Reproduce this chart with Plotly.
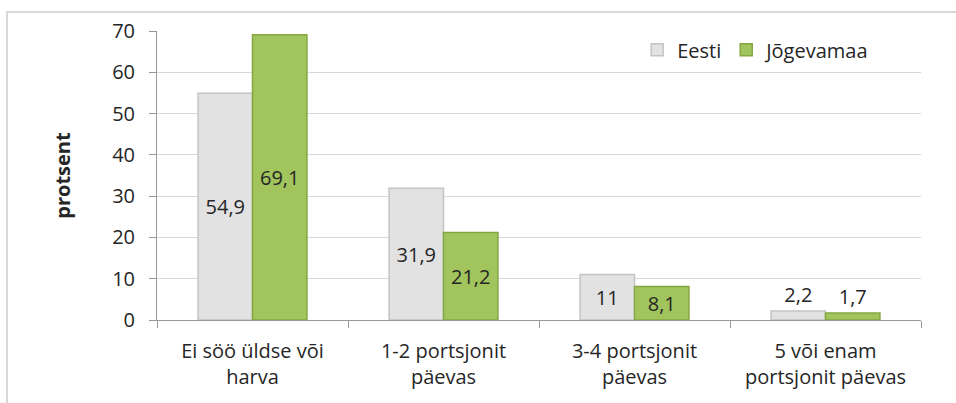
import plotly.graph_objects as go

categories = ["Ei söö üldse või<br>harva", "1-2 portsjonit<br>päevas", "3-4 portsjonit<br>päevas", "5 või enam<br>portsjonit päevas"]
eesti = [54.9, 31.9, 11, 2.2]
jogevamaa = [69.1, 21.2, 8.1, 1.7]
series_names = ["Eesti", "Jõgevamaa"]
y_ticks = [0, 10, 20, 30, 40, 50, 60, 70]

FONT = "Open Sans"
TXT = "#262626"
FS = 20

def fmt(v):
    return ("%g" % v).replace(".", ",")

def positions(vals):
    return ["outside" if v < 5 else "inside" for v in vals]

fig = go.Figure()
fig.add_trace(go.Bar(
    x=categories, y=eesti, name=series_names[0],
    marker=dict(color="#e2e2e2", line=dict(color="#c4c4c4", width=1.5)),
    text=[fmt(v) for v in eesti], textposition=positions(eesti),
    insidetextanchor="middle", cliponaxis=False,
    textfont=dict(family=FONT, size=FS, color=TXT),
))
fig.add_trace(go.Bar(
    x=categories, y=jogevamaa, name=series_names[1],
    marker=dict(color="#a1c45d", line=dict(color="#85a742", width=1.5)),
    text=[fmt(v) for v in jogevamaa], textposition=positions(jogevamaa),
    insidetextanchor="middle", cliponaxis=False,
    textfont=dict(family=FONT, size=FS, color=TXT),
))

fig.update_layout(
    width=956, height=403,
    margin=dict(l=157, r=35, t=31, b=83, autoexpand=False),
    paper_bgcolor="white", plot_bgcolor="white",
    barmode="group", bargap=0.43, bargroupgap=0,
    font=dict(family=FONT, size=FS, color=TXT),
    showlegend=True,
    legend=dict(orientation="h", x=0.94, xanchor="right", y=0.935, yanchor="middle",
                font=dict(family=FONT, size=FS, color=TXT), bgcolor="rgba(0,0,0,0)",
                itemwidth=30, traceorder="normal"),
    uniformtext=dict(mode=False),
)
fig.update_xaxes(
    showgrid=False, showline=True, linecolor="#9a9a9a", linewidth=1,
    ticks="outside", tickson="boundaries", ticklen=7, tickcolor="#9a9a9a",
    ticklabelstandoff=13,
    tickfont=dict(family=FONT, size=FS, color=TXT),
)
fig.update_yaxes(
    range=[0, 70], tickvals=y_ticks, showgrid=True, gridcolor="#d9d9d9", gridwidth=1,
    showline=True, linecolor="#9a9a9a", linewidth=1, zeroline=False,
    ticks="outside", ticklen=7, tickcolor="#9a9a9a", ticklabelstandoff=10,
    tickfont=dict(family=FONT, size=FS, color=TXT),
    title=dict(text="<b>protsent</b>", font=dict(family=FONT, size=20, color=TXT), standoff=36),
)
# chart-area border (only left and top edges fall inside the image)
fig.add_shape(type="rect", xref="paper", yref="paper",
              x0=(7 - 157) / 764, x1=1.2, y0=-0.5, y1=(320 - 12) / 289,
              line=dict(color="#d9d9d9", width=2), fillcolor="rgba(0,0,0,0)", layer="below")

fig.write_html("out.html", config={"displayModeBar": False},
               post_script="document.body.style.margin='0';")
